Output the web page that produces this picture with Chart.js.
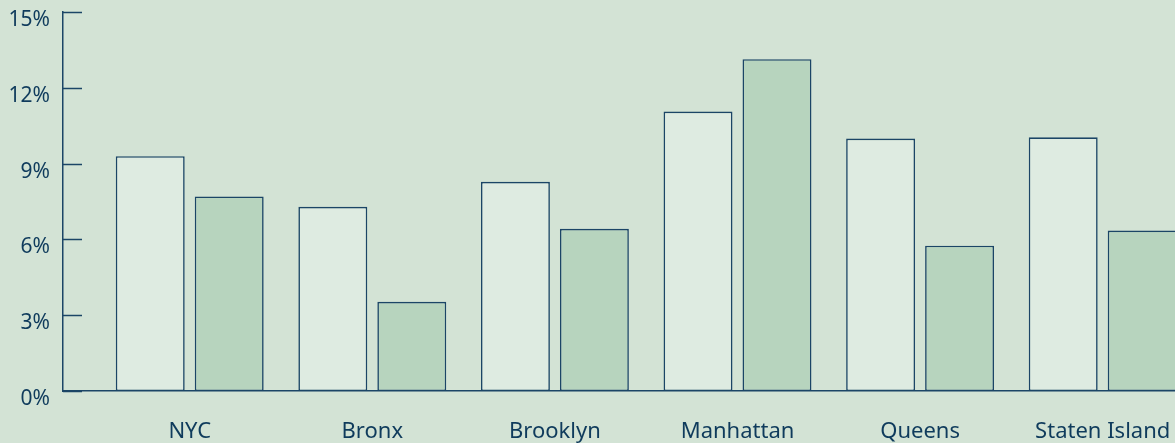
<!DOCTYPE html>
<html>
<head>
<meta charset="utf-8">
<script src="https://cdn.jsdelivr.net/npm/chart.js@4/dist/chart.umd.min.js"></script>
<style>
  html, body { margin: 0; padding: 0; background: #d3e3d5; overflow: hidden; }
  #wrap { width: 1175px; height: 443px; }
</style>
</head>
<body>
<div id="wrap"><canvas id="chart" width="1175" height="443"></canvas></div>
<script>
// данные с картинки
const categories = ['NYC', 'Bronx', 'Brooklyn', 'Manhattan', 'Queens', 'Staten Island'];
const seriesA = [9.29, 7.29, 8.28, 11.06, 9.99, 10.04];
const seriesB = [7.70, 3.53, 6.42, 13.13, 5.75, 6.35];
const yTicks = [0, 3, 6, 9, 12, 15];

const navy = '#1b4566';
const textColor = '#0f3b5c';
const font = "'Noto Sans', 'DejaVu Sans', sans-serif";

// маленькие засечки оси Y внутрь области графика
const yTickMarks = {
  id: 'yTickMarks',
  afterDraw(chart) {
    const ctx = chart.ctx;
    const y = chart.scales.y;
    ctx.save();
    ctx.strokeStyle = navy;
    ctx.lineWidth = 1.5;
    yTicks.forEach(v => {
      const py = Math.round(y.getPixelForValue(v)) + 0.5;
      ctx.beginPath();
      ctx.moveTo(y.right, py);
      ctx.lineTo(y.right + 19, py);
      ctx.stroke();
    });
    ctx.restore();
  }
};

new Chart(document.getElementById('chart'), {
  type: 'bar',
  data: {
    datasets: [
      {
        data: seriesA.map((v, i) => ({ x: i, y: v })),
        backgroundColor: '#deebe1',
        borderColor: navy,
        borderWidth: 1.6,
        borderSkipped: false
      },
      {
        data: seriesB.map((v, i) => ({ x: i, y: v })),
        backgroundColor: '#b7d4be',
        borderColor: navy,
        borderWidth: 1.6,
        borderSkipped: false
      }
    ]
  },
  options: {
    responsive: false,
    animation: false,
    categoryPercentage: 0.865,
    barPercentage: 0.873,
    layout: { padding: { top: 12, left: 0, right: 0, bottom: 0 } },
    plugins: {
      legend: { display: false },
      tooltip: { enabled: false }
    },
    scales: {
      x: {
        type: 'linear',
        offset: false,
        min: -0.694,
        max: 5.396,
        grid: { display: false, drawTicks: false, offset: false },
        border: { display: true, color: navy, width: 1.5 },
        ticks: {
          stepSize: 1,
          includeBounds: false,
          autoSkip: false,
          maxRotation: 0,
          padding: 28,
          color: textColor,
          font: { family: font, size: 22 },
          callback: v => categories[v] !== undefined ? categories[v] : ''
        },
        afterFit: s => { s.height = 52; s.paddingLeft = 0; s.paddingRight = 0; }
      },
      y: {
        min: 0,
        max: 15,
        grid: { display: false, drawTicks: false },
        border: { display: true, color: navy, width: 1.5 },
        afterBuildTicks: s => { s.ticks = yTicks.map(v => ({ value: v })); },
        ticks: {
          padding: 13,
          labelOffset: 8,
          color: textColor,
          font: { family: font, size: 21 },
          callback: v => v + '%'
        },
        afterFit: s => { s.width = 63; s.paddingTop = 0; s.paddingBottom = 0; }
      }
    }
  },
  plugins: [yTickMarks]
});
</script>
</body>
</html>
